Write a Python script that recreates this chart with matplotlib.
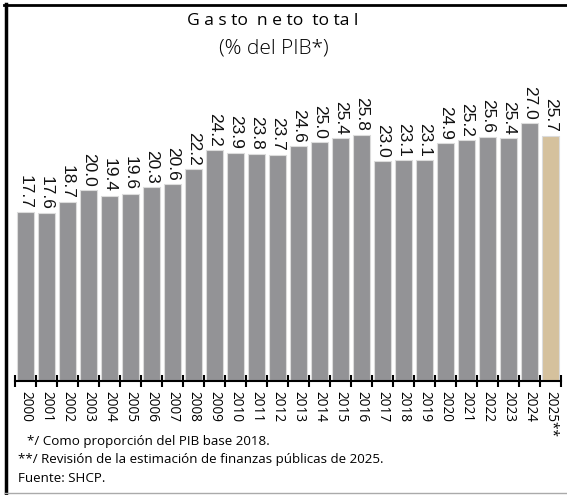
import matplotlib
matplotlib.use('Agg')
import matplotlib.pyplot as plt
from matplotlib.lines import Line2D

# Datos
anios = ['2000', '2001', '2002', '2003', '2004', '2005', '2006', '2007', '2008',
         '2009', '2010', '2011', '2012', '2013', '2014', '2015', '2016', '2017',
         '2018', '2019', '2020', '2021', '2022', '2023', '2024', '2025**']
gasto = [17.7, 17.6, 18.7, 20.0, 19.4, 19.6, 20.3, 20.6, 22.2,
         24.2, 23.9, 23.8, 23.7, 24.6, 25.0, 25.4, 25.8, 23.0,
         23.1, 23.1, 24.9, 25.2, 25.6, 25.4, 27.0, 25.7]
titulo = 'G a s to  n e to  to ta l'
subtitulo = '(% del PIB*)'
notas = ['*/ Como proporción del PIB base 2018.',
         '**/ Revisión de la estimación de finanzas públicas de 2025.',
         'Fuente: SHCP.']

gris = '#939396'
beige = '#D5C19D'
colores = [gris] * (len(gasto) - 1) + [beige]

W, H = 567, 495
fig = plt.figure(figsize=(W / 100, H / 100), dpi=100)
ax = fig.add_axes([15 / W, 1 - 381 / H, (561 - 15) / W, (381 - 94.5) / H])

x = list(range(len(gasto)))
ax.bar(x, gasto, width=0.8, color=colores, edgecolor='#dcdcdc', linewidth=0.8)

for xi, v in zip(x, gasto):
    ax.annotate(f'{v:.1f}', (xi, v), xytext=(0, 2.5), textcoords='offset points',
                rotation=-90, ha='center', va='bottom', fontsize=12.5,
                family='Liberation Sans', color='#111111')

ax.set_xlim(-0.5, len(gasto) - 0.5)
ax.set_ylim(0, 30)
ax.set_yticks([])
for s in ['left', 'right', 'top']:
    ax.spines[s].set_visible(False)
ax.spines['bottom'].set_linewidth(1.5)

# marcas en los limites entre barras, etiquetas al centro
ax.set_xticks([i - 0.5 for i in range(len(gasto) + 1)])
ax.set_xticklabels([])
ax.tick_params(axis='x', which='major', direction='inout', length=9, width=1.5)
ax.set_xticks(x, minor=True)
ax.set_xticklabels(anios, minor=True, rotation=-90, fontsize=9.8,
                   family='Open Sans', va='top')
ax.tick_params(axis='x', which='minor', length=0, pad=7)

fig.text(273 / W, 1 - 21 / H, titulo, ha='center', va='center', fontsize=12.6,
         family='Open Sans')
fig.text(274 / W, 1 - 49 / H, subtitulo, ha='center', va='center', fontsize=15,
         family='Open Sans', weight='light')

fig.text(27 / W, 1 - 441 / H, notas[0], ha='left', va='center', fontsize=9.6, family='Open Sans')
fig.text(18 / W, 1 - 460 / H, notas[1], ha='left', va='center', fontsize=9.6, family='Open Sans')
fig.text(18 / W, 1 - 478 / H, notas[2], ha='left', va='center', fontsize=9.6, family='Open Sans')

# marco
fig.add_artist(Line2D([5.5 / W, 5.5 / W], [0, 1 - 4 / H], color='black', lw=2.5))
fig.add_artist(Line2D([4 / W, 1], [1 - 4.5 / H, 1 - 4.5 / H], color='black', lw=2))
fig.add_artist(Line2D([5 / W, 1], [1 - 493 / H, 1 - 493 / H], color='#aaaaaa', lw=1))

fig.savefig('out.png', dpi=100)
